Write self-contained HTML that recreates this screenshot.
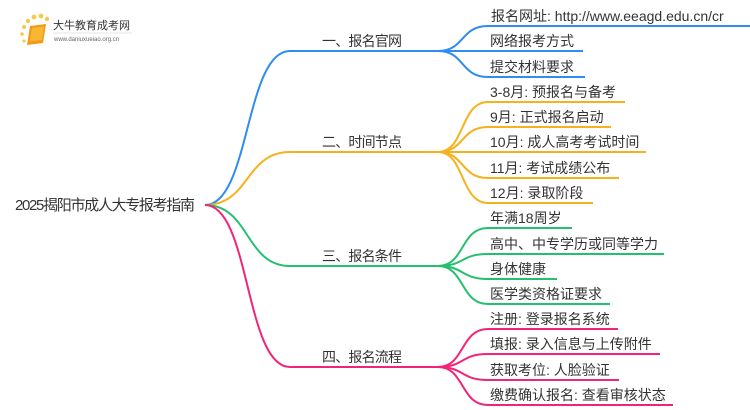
<!DOCTYPE html>
<html><head><meta charset="utf-8"><style>
html,body{margin:0;padding:0;background:#fff;width:750px;height:410px;overflow:hidden}
svg{display:block}
text{font-family:"Liberation Sans","Noto Sans CJK SC",sans-serif;fill:#333;font-size:14px}
</style></head><body>
<svg width="750" height="410" viewBox="0 0 750 410" xmlns="http://www.w3.org/2000/svg">
<!-- logo -->
<g>
<circle cx="24" cy="27" r="2" fill="#f7c84a"/><circle cx="28" cy="21" r="2.2" fill="#f7c84a"/><circle cx="34" cy="17" r="2.4" fill="#f7c84a"/><circle cx="41" cy="16" r="2.4" fill="#f7c84a"/><circle cx="47" cy="19" r="2.2" fill="#f7c84a"/><circle cx="22" cy="34" r="1.8" fill="#f7c84a"/><circle cx="24" cy="41" r="1.6" fill="#f7c84a"/>
<path d="M30 26 L46 24 L43 43 L27 45 Z" fill="#f29a1a"/><path d="M32 28 L44 26.5 L42 40 L30 41.5 Z" fill="#f7b733"/>
<text x="53" y="29" style="font-size:11px;fill:#333">大牛教育成考网</text>
<line x1="53" y1="33" x2="132" y2="33" stroke="#ddd" stroke-width="0.8"/>
<text x="54" y="41" style="font-size:6px;fill:#666">www.daniuxueiao.org.cn</text>
</g>
<g fill="none" stroke-width="2">
<!-- root to l1 -->
<path d="M205 205 C250 205,245 51,290 51 L438 51" stroke="#2f8cf2"/>
<path d="M205 205 C250 205,245 152,290 152 L438 152" stroke="#f5b21c"/>
<path d="M205 205 C250 205,245 266,290 266 L438 266" stroke="#25c06e"/>
<path d="M205 205 C250 205,245 367,290 367 L438 367" stroke="#f2247a"/>
<!-- blue leaves -->
<g stroke="#2f8cf2">
<path d="M438 51 C465 51,460 26,488 26 L750 26"/>
<path d="M438 51 C465 51,460 51,488 51 L583 51"/>
<path d="M438 51 C465 51,460 77,488 77 L585 77"/>
</g>
<g stroke="#f5b21c">
<path d="M438 152 C465 152,460 102,488 102 L625 102"/>
<path d="M438 152 C465 152,460 127,488 127 L611 127"/>
<path d="M438 152 C465 152,460 152,488 152 L646 152"/>
<path d="M438 152 C465 152,460 178,488 178 L619 178"/>
<path d="M438 152 C465 152,460 203,488 203 L593 203"/>
</g>
<g stroke="#25c06e">
<path d="M438 266 C465 266,460 228,488 228 L572 228"/>
<path d="M438 266 C465 266,460 254,488 254 L664 254"/>
<path d="M438 266 C465 266,460 279,488 279 L557 279"/>
<path d="M438 266 C465 266,460 304,488 304 L610 304"/>
</g>
<g stroke="#f2247a">
<path d="M438 367 C465 367,460 329,488 329 L618 329"/>
<path d="M438 367 C465 367,460 354,488 354 L660 354"/>
<path d="M438 367 C465 367,460 380,488 380 L619 380"/>
<path d="M438 367 C465 367,460 405,488 405 L673 405"/>
</g>
</g>
<text x="15" y="210" textLength="180" style="font-size:15px">2025揭阳市成人大专报考指南</text>
<text x="322" y="46" textLength="80">一、报名官网</text>
<text x="322" y="147" textLength="80">二、时间节点</text>
<text x="322" y="261" textLength="80">三、报名条件</text>
<text x="322" y="362" textLength="80">四、报名流程</text>
<text x="491" y="21">报名网址: http://www.eeagd.edu.cn/cr</text>
<text x="490" y="46">网络报考方式</text>
<text x="490" y="72">提交材料要求</text>
<text x="490" y="97">3-8月: 预报名与备考</text>
<text x="490" y="122">9月: 正式报名启动</text>
<text x="490" y="147">10月: 成人高考考试时间</text>
<text x="490" y="173">11月: 考试成绩公布</text>
<text x="490" y="198">12月: 录取阶段</text>
<text x="490" y="223">年满18周岁</text>
<text x="490" y="249">高中、中专学历或同等学力</text>
<text x="490" y="274">身体健康</text>
<text x="490" y="299">医学类资格证要求</text>
<text x="490" y="324">注册: 登录报名系统</text>
<text x="490" y="349">填报: 录入信息与上传附件</text>
<text x="490" y="375">获取考位: 人脸验证</text>
<text x="490" y="400">缴费确认报名: 查看审核状态</text>
</svg>
</body></html>
